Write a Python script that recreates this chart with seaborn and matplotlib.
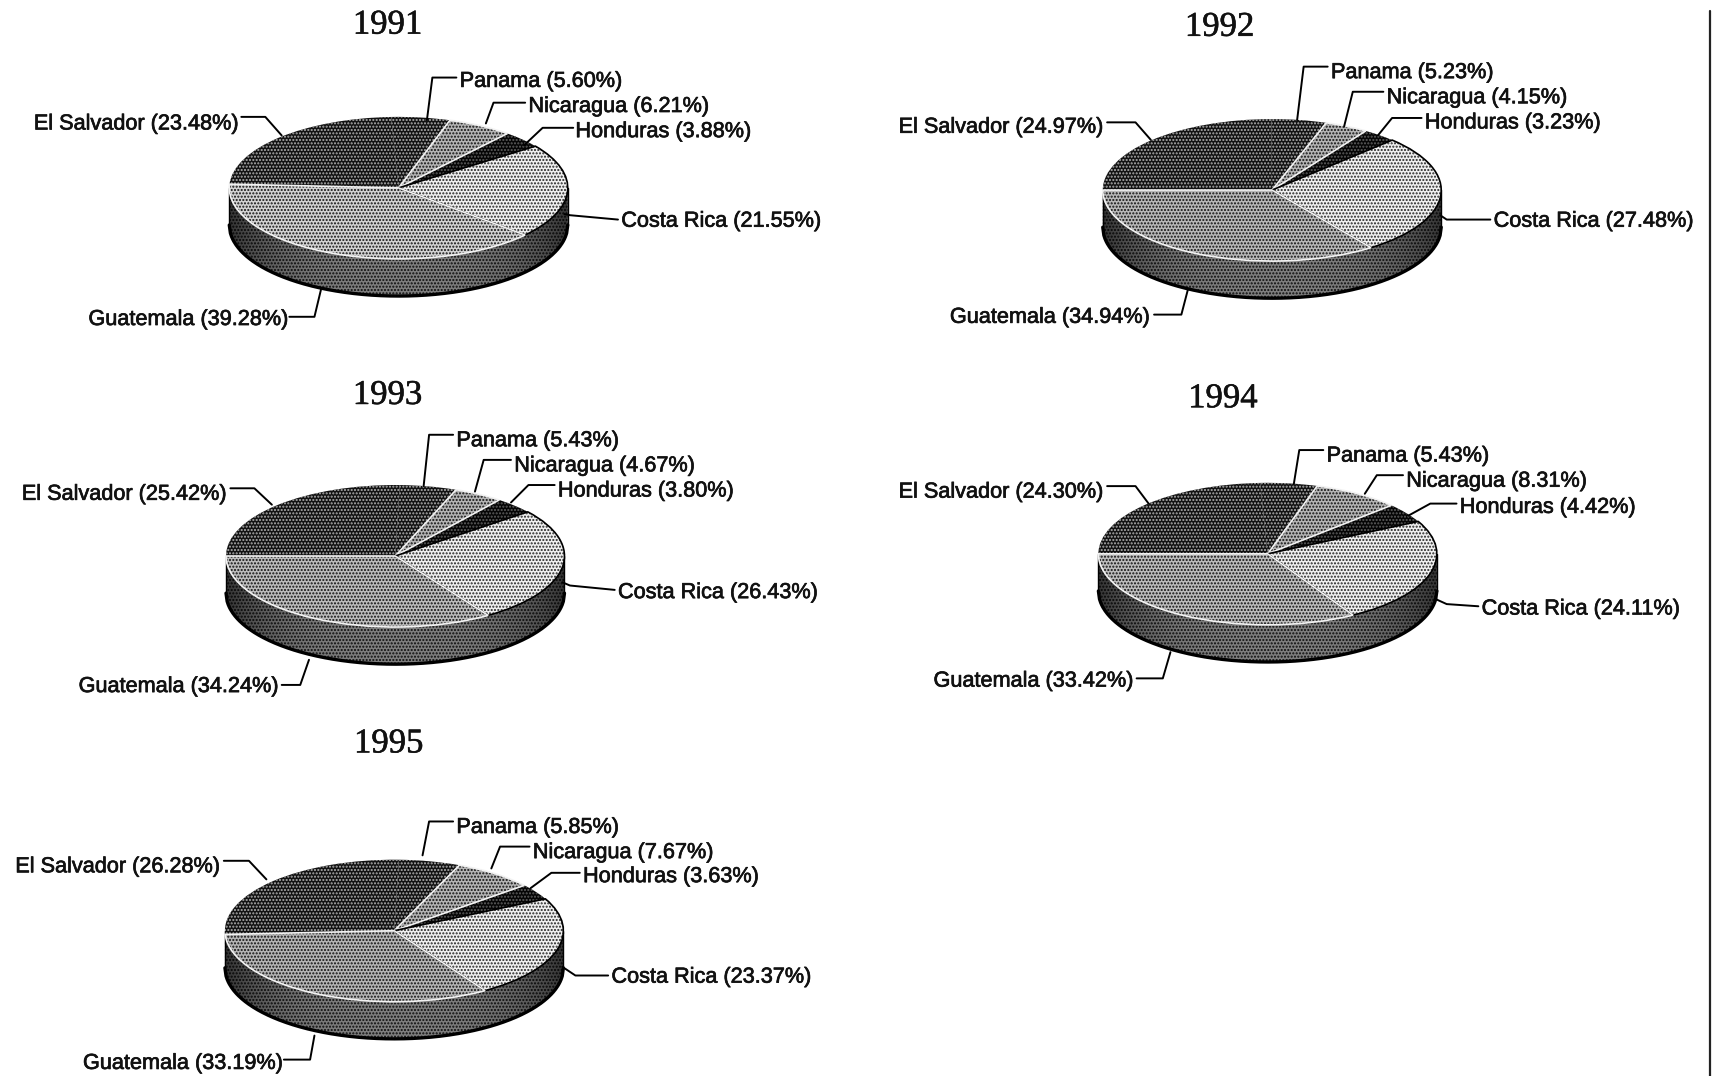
import matplotlib
matplotlib.use('Agg')
import matplotlib.pyplot as plt
import matplotlib.patheffects as pe
import numpy as np
import seaborn as sns

sns.set_theme(style='white')
plt.rcParams['font.family'] = ['Liberation Sans', 'DejaVu Sans']
plt.rcParams['hatch.linewidth'] = 1.0

# pie slices run clockwise from the left edge
countries = ['El Salvador', 'Panama', 'Nicaragua', 'Honduras', 'Costa Rica', 'Guatemala']
years = ['1991', '1992', '1993', '1994', '1995']

shares_1991 = [23.48, 5.60, 6.21, 3.88, 21.55, 39.28]
shares_1992 = [24.97, 5.23, 4.15, 3.23, 27.48, 34.94]
shares_1993 = [25.42, 5.43, 4.67, 3.80, 26.43, 34.24]
shares_1994 = [24.30, 5.43, 8.31, 4.42, 24.11, 33.42]
shares_1995 = [26.28, 5.85, 7.67, 3.63, 23.37, 33.19]
shares = [shares_1991, shares_1992, shares_1993, shares_1994, shares_1995]

# layout, in px of the 1568 wide preview
W, H = 1568, 985
centers = [(365, 172), (1165, 174), (362, 509), (1161, 507), (361, 852)]
title_pos = [(355, 23), (1117, 25), (355, 362), (1120, 365), (356, 681)]
start_angles = [177, 180, 180, 180, 183]
RX, RY, DEPTH = 155, 65, 34

# slice fill, hatch colour, hatch
slice_style = {
    'El Salvador': ('#121212', '#b0b0b0', '.....'),
    'Panama': ('#121212', '#b0b0b0', '.....'),
    'Nicaragua': ('#b4b4b4', '#101010', '.....'),
    'Honduras': ('#050505', '#606060', '.....'),
    'Costa Rica': ('#f0f0f0', '#222222', '.....'),
    'Guatemala': ('#bcbcbc', '#101010', '.....'),
}
# the 1991 print of Guatemala came out lighter
guatemala_face = ['#d2d2d2', '#b8b8b8', '#bcbcbc', '#bcbcbc', '#b4b4b4']

# text left x, text y, leader line
label_pos = [
    {'El Salvador': (31, 112, [(221, 107), (243, 107), (258, 124)]),
     'Panama': (421, 73, [(418, 71), (396, 71), (391, 110)]),
     'Nicaragua': (484, 96, [(481, 94), (452, 94), (445, 113)]),
     'Honduras': (527, 119, [(525, 117), (497, 117), (480, 133)]),
     'Costa Rica': (569, 201, [(566, 201), (522, 197), (517, 196)]),
     'Guatemala': (81, 291, [(265, 290), (288, 290), (294, 265)])},
    {'El Salvador': (823, 115, [(1014, 112), (1040, 112), (1054, 128)]),
     'Panama': (1219, 65, [(1216, 61), (1194, 61), (1188, 110)]),
     'Nicaragua': (1270, 88, [(1267, 84), (1239, 84), (1231, 116)]),
     'Honduras': (1305, 111, [(1302, 108), (1275, 108), (1262, 124)]),
     'Costa Rica': (1368, 201, [(1365, 201), (1325, 201), (1319, 197)]),
     'Guatemala': (870, 289, [(1057, 288), (1082, 288), (1088, 265)])},
    {'El Salvador': (20, 451, [(211, 447), (233, 447), (249, 462)]),
     'Panama': (418, 402, [(415, 398), (393, 398), (388, 445)]),
     'Nicaragua': (471, 425, [(468, 421), (443, 421), (435, 450)]),
     'Honduras': (511, 448, [(508, 444), (484, 444), (468, 460)]),
     'Costa Rica': (566, 541, [(563, 540), (522, 536), (515, 533)]),
     'Guatemala': (72, 627, [(258, 627), (275, 627), (283, 604)])},
    {'El Salvador': (823, 449, [(1014, 445), (1040, 445), (1052, 461)]),
     'Panama': (1215, 416, [(1212, 412), (1190, 412), (1185, 443)]),
     'Nicaragua': (1288, 439, [(1285, 435), (1261, 435), (1250, 452)]),
     'Honduras': (1337, 463, [(1334, 461), (1310, 461), (1290, 472)]),
     'Costa Rica': (1357, 556, [(1354, 555), (1325, 553), (1314, 548)]),
     'Guatemala': (855, 622, [(1041, 621), (1065, 621), (1072, 597)])},
    {'El Salvador': (14, 792, [(205, 788), (228, 788), (244, 805)]),
     'Panama': (418, 756, [(415, 752), (393, 752), (387, 783)]),
     'Nicaragua': (488, 779, [(485, 775), (458, 775), (450, 795)]),
     'Honduras': (534, 801, [(531, 799), (505, 799), (486, 813)]),
     'Costa Rica': (560, 893, [(557, 893), (527, 893), (515, 885)]),
     'Guatemala': (76, 972, [(260, 970), (284, 970), (288, 948)])},
]


def draw_pie(fig, values, center, start, guat_face):
    pad = 4
    cx, cy = center
    left = (cx - RX - pad) / W
    bottom = 1 - (cy + RY + DEPTH + pad) / H
    ax = fig.add_axes([left, bottom, (2 * RX + 2 * pad) / W, (2 * RY + DEPTH + 2 * pad) / H])

    # side wall
    d = DEPTH / RY
    xs = np.linspace(-1, 1, 300)
    rim = -np.sqrt(1 - xs ** 2)
    wall = ax.fill_between(xs, rim - d, rim, facecolor='#7e7e7e', edgecolor='#0c0c0c',
                           hatch='.....', linewidth=0, zorder=1)

    # wall gets darker towards both ends
    shade = np.abs(np.linspace(-1, 1, 300))[None, :] ** 3 * 0.6
    img = ax.imshow(np.zeros_like(shade), cmap='gray', vmin=0, vmax=1, alpha=shade,
                    extent=(-1, 1, -1 - d, 0), aspect='auto', zorder=1.5)
    img.set_clip_path(wall.get_paths()[0], transform=ax.transData)

    ax.plot(xs, rim - d, color='black', lw=2.4, zorder=2)
    ax.plot([-1, -1], [0, -d], color='black', lw=1.0, zorder=2)
    ax.plot([1, 1], [0, -d], color='black', lw=1.0, zorder=2)

    wedges, _ = ax.pie(values, startangle=start, counterclock=False, radius=1,
                       wedgeprops={'linewidth': 0, 'zorder': 3})
    for wedge, name in zip(wedges, countries):
        face, dots, hatch = slice_style[name]
        wedge.set_facecolor(guat_face if name == 'Guatemala' else face)
        wedge.set_edgecolor(dots)
        wedge.set_hatch(hatch)
        wedge.set_linewidth(0)

    # outlines: black rim on the light slice, scan-white on the others
    outline, _ = ax.pie(values, startangle=start, counterclock=False, radius=1,
                        wedgeprops={'fill': False, 'edgecolor': 'black', 'linewidth': 1.2, 'zorder': 4})
    outline[0].set_visible(False)
    outline[1].set_visible(False)
    outline[3].set_visible(False)
    outline[2].set_edgecolor('#f2f2f2')
    outline[5].set_edgecolor('#f2f2f2')
    outline[5].set_linewidth(1.2)
    outline[5].set_zorder(5)

    # circle squashed to an ellipse by the axes shape
    ax.set_aspect('auto')
    ax.set_xlim(-1 - pad / RX, 1 + pad / RX)
    ax.set_ylim(-1 - d - pad / RY, 1 + pad / RY)
    ax.axis('off')
    return ax


fig = plt.figure(figsize=(17.12, 10.76), dpi=100, facecolor='white')

for values, center, start, guat_face in zip(shares, centers, start_angles, guatemala_face):
    draw_pie(fig, values, center, start, guat_face)

overlay = fig.add_axes([0, 0, 1, 1], zorder=5)
overlay.patch.set_visible(False)
overlay.set_xlim(0, W)
overlay.set_ylim(H, 0)
overlay.axis('off')

bold_ish = [pe.withStroke(linewidth=0.5, foreground='#111111')]
title_ish = [pe.withStroke(linewidth=0.4, foreground='#111111')]
for i, year in enumerate(years):
    tx, ty = title_pos[i]
    overlay.text(tx, ty, year, ha='center', va='center', fontsize=25,
                 family=['Liberation Serif', 'DejaVu Serif'], color='#111111',
                 path_effects=title_ish)
    for name, value in zip(countries, shares[i]):
        x, y, line = label_pos[i][name]
        overlay.text(x, y + 1.5, f'{name} ({value:.2f}%)', ha='left', va='center',
                     fontsize=15.6, color='#111111', path_effects=bold_ish)
        overlay.plot([p[0] for p in line], [p[1] for p in line], color='black', lw=1.4)

# scanned page edge
overlay.plot([1566.5, 1566.5], [10, 985], color='#222222', lw=1.6)

fig.savefig('out.png', dpi=100)
plt.close(fig)
